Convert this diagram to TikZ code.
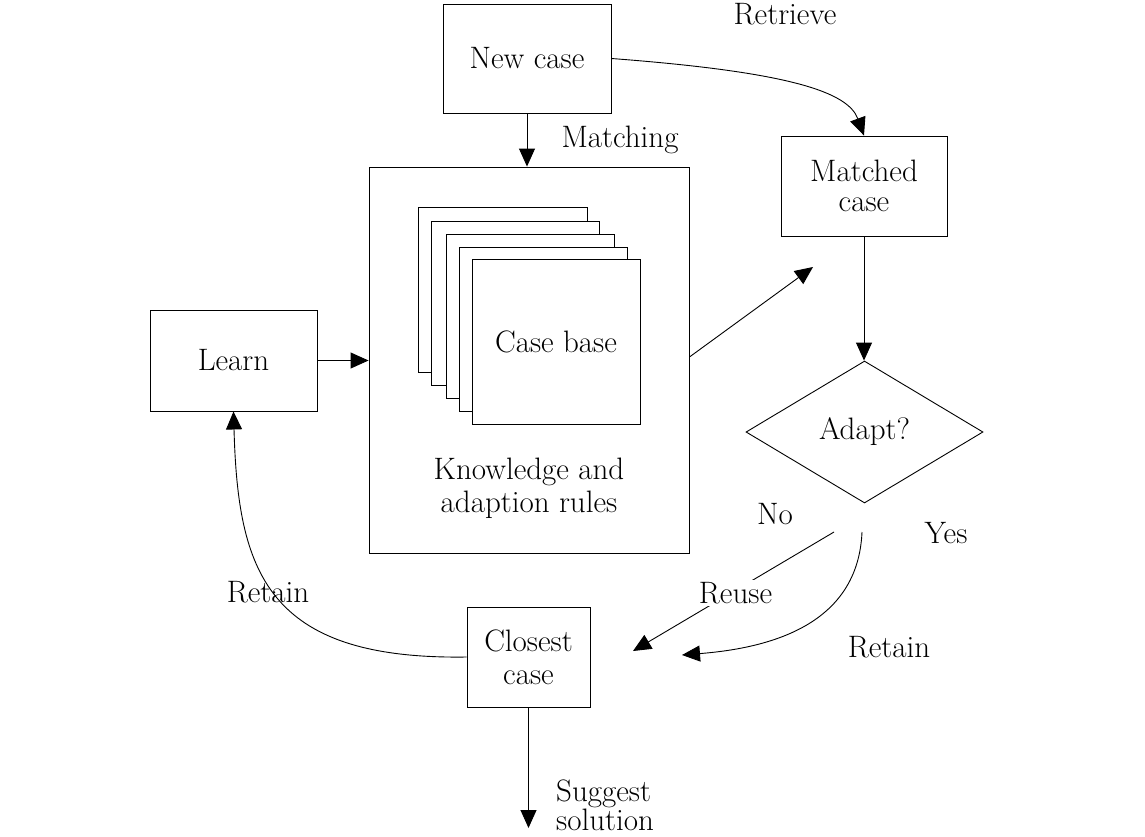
\documentclass[tikz,border=0pt]{standalone}
\usetikzlibrary{arrows.meta,shapes.geometric}
\begin{document}
\begin{tikzpicture}[x=1pt,y=-1pt,
  every node/.style={font=\fontsize{31}{34}\selectfont},
  box/.style={draw,line width=0.9pt,inner sep=0pt,align=center,fill=white},
  page/.style={draw,line width=0.9pt,fill=white},
  arr/.style={line width=0.9pt,-{Triangle[length=18pt,width=16pt]}},
  lbl/.style={inner sep=1pt,align=left}]
\useasboundingbox (0,0) rectangle (1145,836);
% boxes
\node[box,minimum width=168,minimum height=109] (new) at (527,58.5) {New case};
\node[box,minimum width=320,minimum height=386] (big) at (529,360) {};
\node[box,minimum width=167,minimum height=101] (learn) at (233.5,360.5) {Learn};
\node[box,minimum width=166,minimum height=100] (matched) at (864,186) {Matched\\[-4pt]case};
\node[draw,line width=0.9pt,shape=diamond,minimum width=237,minimum height=142,inner sep=0pt] (adapt) at (864.5,432) {Adapt?};
\node[box,minimum width=123,minimum height=100] (closest) at (528.5,657) {Closest\\[-1pt]case};
% page stack
\draw[page] (418,207) rectangle (587,372);
\draw[page] (431,221) rectangle (599,385);
\draw[page] (446,234) rectangle (614,398);
\draw[page] (459,247) rectangle (627,411);
\node[box,minimum width=168,minimum height=165] (cb) at (556,341.5) {Case base};
\node[align=center,inner sep=0pt] (know) at (529,488) {Knowledge and\\[-1pt]adaption rules};
% coordinates
\coordinate (mtip) at (813,267);
\coordinate (reuseS) at (834,532);
\coordinate (reuseT) at (633,651);
\coordinate (yesS) at (862,532);
\coordinate (yesT) at (682,655);
\coordinate (sugT) at (528.5,828);
% connectors
\draw[arr] (new.south) -- (new.south |- big.north);
\draw[arr] (new.east) .. controls (790,72) and (848,92) .. (matched.north);
\draw[arr] (learn.east) -- (learn.east -| big.west);
\draw[arr] (big.east |- 0,357) -- (mtip);
\draw[arr] (matched.south) -- (matched.south |- adapt.north);
\draw[arr] (reuseS) -- node[pos=0.49,fill=white,inner sep=2pt,yshift=-3pt] (reuse) {Reuse} (reuseT);
\draw[arr] (yesS) .. controls (858,625) and (770,648) .. (yesT);
\draw[arr] (closest.west) .. controls (265,660) and (238,570) .. (learn.south);
\draw[arr] (closest.south) -- (sugT);
% labels
\node[lbl] at (785,14) {Retrieve};
\node[lbl] at (620,140) {Matching};
\node[lbl] at (775,514) {No};
\node[lbl] at (946,533) {Yes};
\node[lbl] at (889,647) {Retain};
\node[lbl] at (268,592) {Retain};
\node[lbl,anchor=west] at (555,805) {Suggest\\[-5pt]solution};
\end{tikzpicture}
\end{document}
